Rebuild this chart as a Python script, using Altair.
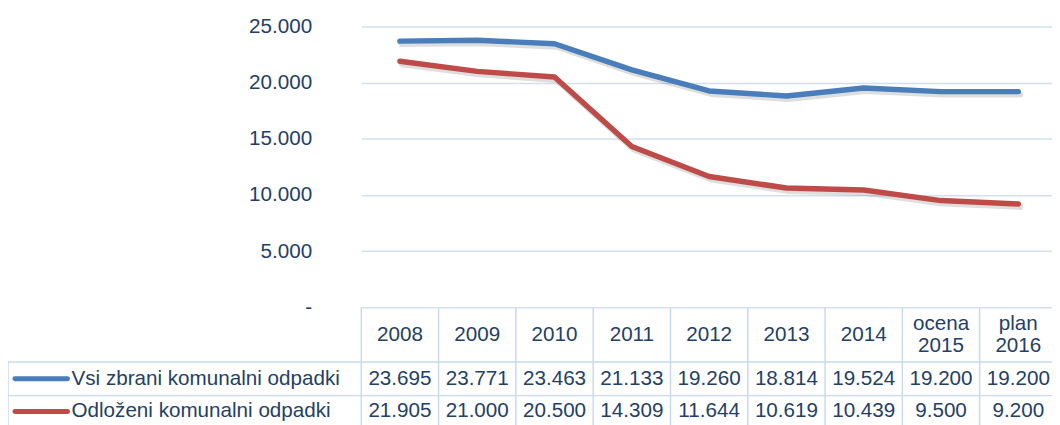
import altair as alt
import pandas as pd

categories = ["2008", "2009", "2010", "2011", "2012", "2013", "2014", "ocena\n2015", "plan\n2016"]
series_names = ["Vsi zbrani komunalni odpadki", "Odloženi komunalni odpadki"]
zbrani = [23695, 23771, 23463, 21133, 19260, 18814, 19524, 19200, 19200]
odlozeni = [21905, 21000, 20500, 14309, 11644, 10619, 10439, 9500, 9200]
y_ticks = [0, 5000, 10000, 15000, 20000, 25000]
colors = ["#4A7EBB", "#BE4B48"]

rows = []
for s, vals in zip(series_names, [zbrani, odlozeni]):
    for c, v in zip(categories, vals):
        rows.append({"cat": c, "series": s, "value": v})
df = pd.DataFrame(rows)
cat_df = pd.DataFrame({"cat": categories})
ser_df = pd.DataFrame({"series": series_names})
one_df = pd.DataFrame({"k": [0]})

TEXT = "#243F66"
FONT = "Liberation Sans"
FS = 20.8
GRID = "#D3E0F0"
BORDER = "#C9DAEE"
W = 696
XR = 701
H = 283
STEP = XR / len(categories)

xenc = alt.X("cat:N", sort=categories, axis=None,
             scale=alt.Scale(type="point", range=[0, XR], padding=0.5))
yscale = alt.Scale(domain=[0, 25000], nice=False, zero=True)
yaxis = alt.Axis(
    values=y_ticks,
    labelExpr="datum.value == 0 ? '-\u2007' : replace(format(datum.value, ','), ',', '.')",
    domain=False, ticks=False, labelPadding=50, grid=True,
    gridColor=GRID, gridWidth=1.5, labelFont=FONT, labelFontSize=FS,
    labelColor=TEXT, title=None,
)
color = alt.Color("series:N", scale=alt.Scale(domain=series_names, range=colors), legend=None)
yrow = alt.Y("series:N", axis=None,
             scale=alt.Scale(type="point", domain=series_names, range=[355, 388], padding=0))

shadow = alt.Chart(df).mark_line(
    strokeWidth=6, color="#000000", opacity=0.13, xOffset=2, yOffset=3,
    strokeCap="round", strokeJoin="round"
).encode(x=xenc, y=alt.Y("value:Q", scale=yscale, axis=None), detail="series:N")

lines = alt.Chart(df).mark_line(
    strokeWidth=5.5, strokeCap="round", strokeJoin="round"
).encode(x=xenc, y=alt.Y("value:Q", scale=yscale, axis=yaxis), color=color)

vlines = alt.Chart(cat_df).mark_rule(color=BORDER, strokeWidth=1.5, xOffset=-STEP / 2).encode(
    x=xenc, y=alt.value(H), y2=alt.value(H + 140))

left_border = alt.Chart(one_df).mark_rule(color=BORDER, strokeWidth=1.5).encode(
    x=alt.value(-356), y=alt.value(338), y2=alt.value(H + 140))

hline1 = alt.Chart(one_df).mark_rule(color=BORDER, strokeWidth=1.5).encode(
    x=alt.value(-356), x2=alt.value(W), y=alt.value(338))
hline2 = alt.Chart(one_df).mark_rule(color=BORDER, strokeWidth=1.5).encode(
    x=alt.value(-356), x2=alt.value(W), y=alt.value(372))

header_single = alt.Chart(cat_df).transform_filter(
    "indexof(datum.cat, '\\n') < 0"
).mark_text(
    font=FONT, fontSize=FS, color=TEXT, baseline="middle"
).encode(x=xenc, y=alt.value(311), text="cat:N")

header_multi = alt.Chart(cat_df).transform_filter(
    "indexof(datum.cat, '\\n') >= 0"
).mark_text(
    font=FONT, fontSize=FS, color=TEXT, lineBreak="\n", lineHeight=22, baseline="middle"
).encode(x=xenc, y=alt.value(300), text="cat:N")

values = alt.Chart(df).transform_calculate(
    label="replace(format(datum.value, ','), ',', '.')"
).mark_text(font=FONT, fontSize=FS, color=TEXT, baseline="middle").encode(
    x=xenc, y=yrow, text="label:N")

row_labels = alt.Chart(ser_df).mark_text(
    font=FONT, fontSize=FS, color=TEXT, align="left", baseline="middle"
).encode(x=alt.value(-292), y=yrow, text="series:N")

swatches = alt.Chart(ser_df).mark_rule(strokeWidth=5, strokeCap="round").encode(
    x=alt.value(-349), x2=alt.value(-296), y=yrow, color=color)

chart = alt.layer(
    vlines, left_border, hline1, hline2, shadow, lines,
    header_single, header_multi, values, row_labels, swatches
).resolve_scale(y="independent").properties(
    width=W, height=H,
    autosize=alt.AutoSizeParams(type="none"),
    padding={"left": 356, "top": 17, "right": 0, "bottom": 117},
).configure(background="white").configure_view(stroke=None)

chart.save("out.html", embed_options={"renderer": "svg", "actions": False})
